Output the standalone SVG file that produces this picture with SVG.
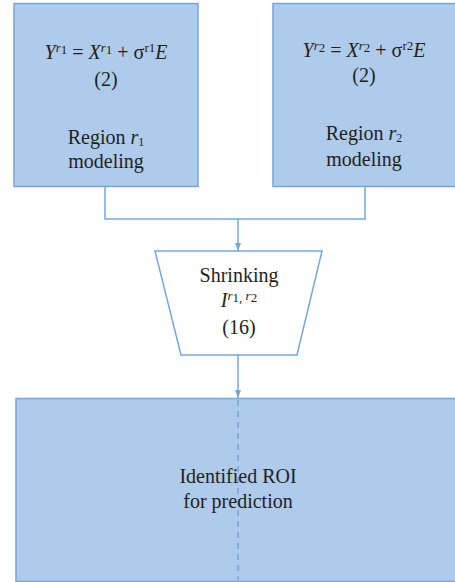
<svg xmlns="http://www.w3.org/2000/svg" width="455" height="582" viewBox="0 0 455 582">
<style>
.box{fill:#aecbeb;stroke:#74a7dd;stroke-width:1.5}
.ln{fill:none;stroke:#74a7dd;stroke-width:1.5}
text{font-family:'Liberation Serif','DejaVu Serif','Times New Roman',serif;font-size:20px;fill:#231f20;text-anchor:middle}
.i{font-style:italic}
.s{font-size:13px}
.b{font-size:12px}
</style>
<defs>
<marker id="ah" viewBox="0 0 8 8" refX="8" refY="4" markerWidth="8" markerHeight="8" markerUnits="userSpaceOnUse" orient="auto">
<path d="M0,1 L8,4 L0,7 Z" fill="#74a7dd"/>
</marker>
</defs>
<g id="connectors">
<polyline class="ln" points="105,187 105,219 365,219 365,187"/>
<line class="ln" x1="238" y1="219" x2="238" y2="251" marker-end="url(#ah)"/>
<line class="ln" x1="238" y1="355" x2="238" y2="398" marker-end="url(#ah)"/>
</g>
<g id="region1">
<rect class="box" x="14" y="3.5" width="184" height="183"/>
<text x="106" y="59"><tspan class="i">Y</tspan><tspan class="i s" dy="-7">r</tspan><tspan class="s" dy="2">1</tspan><tspan dy="5"> = </tspan><tspan class="i">X</tspan><tspan class="i s" dy="-7">r</tspan><tspan class="s" dy="2">1</tspan><tspan dy="5"> + σ</tspan><tspan class="s" dy="-7">r1</tspan><tspan class="i" dy="7">E</tspan></text>
<text x="106" y="86">(2)</text>
<text x="106" y="144">Region <tspan class="i">r</tspan><tspan class="b" dy="2">1</tspan></text>
<text x="106" y="168">modeling</text>
</g>
<g id="region2">
<rect class="box" x="273" y="3.5" width="184" height="183"/>
<text x="364" y="57"><tspan class="i">Y</tspan><tspan class="i s" dy="-7">r</tspan><tspan class="s" dy="2">2</tspan><tspan dy="5"> = </tspan><tspan class="i">X</tspan><tspan class="i s" dy="-7">r</tspan><tspan class="s" dy="2">2</tspan><tspan dy="5"> + σ</tspan><tspan class="s" dy="-7">r2</tspan><tspan class="i" dy="7">E</tspan></text>
<text x="364" y="82">(2)</text>
<text x="364" y="140">Region <tspan class="i">r</tspan><tspan class="b" dy="2">2</tspan></text>
<text x="364" y="166">modeling</text>
</g>
<g id="shrinking">
<polygon points="155,251 322,251 297,355 181,355" fill="#ffffff" stroke="#74a7dd" stroke-width="1.5"/>
<text x="239" y="282">Shrinking</text>
<text x="239" y="307"><tspan class="i">I</tspan><tspan class="i s" dy="-7">r</tspan><tspan class="s" dy="2">1</tspan><tspan class="s">, </tspan><tspan class="i s" dy="-2">r</tspan><tspan class="s" dy="2">2</tspan></text>
<text x="239" y="334">(16)</text>
</g>
<g id="roi">
<rect class="box" x="16" y="398.5" width="441" height="183"/>
<line x1="238" y1="400" x2="238" y2="580" stroke="#74a7dd" stroke-width="1.5" stroke-dasharray="6,5"/>
<text x="238" y="483">Identified ROI</text>
<text x="238" y="508">for prediction</text>
</g>
</svg>
